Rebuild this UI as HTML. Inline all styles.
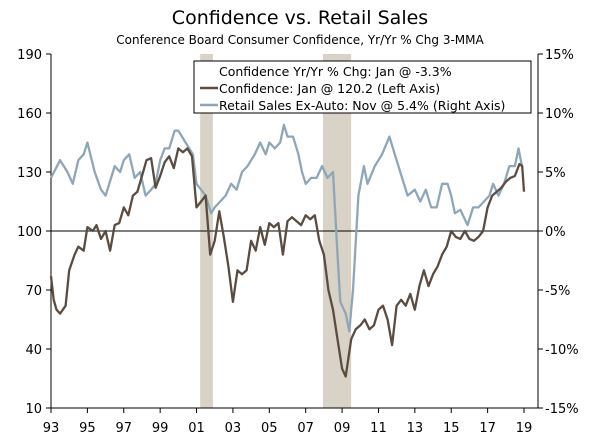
<!DOCTYPE html>
<html><head><meta charset="utf-8"><style>
body{margin:0;background:#fff}
svg{display:block;font-family:"DejaVu Sans","Liberation Sans",sans-serif}
</style></head><body>
<svg id="c" width="600" height="440">
<text x="300" y="24" text-anchor="middle" font-size="19" fill="#000">Confidence vs. Retail Sales</text>
<text x="300" y="44" text-anchor="middle" font-size="12" fill="#000">Conference Board Consumer Confidence, Yr/Yr % Chg 3-MMA</text>
<g id="g"></g>
</svg>
<script>
const recessions=[[2001.2,2001.9],[2007.95,2009.5]];
const leftTicks=[10,40,70,100,130,160,190];
const rightTicks=[-15,-10,-5,0,5,10,15];
const xTicks=[1993,1995,1997,1999,2001,2003,2005,2007,2009,2011,2013,2015,2017,2019];
const confYears=[1993,1993.15,1993.3,1993.5,1993.8,1994,1994.3,1994.5,1994.8,1995,1995.3,1995.5,1995.75,1996,1996.25,1996.5,1996.75,1997,1997.25,1997.5,1997.75,1998,1998.25,1998.5,1998.75,1999,1999.25,1999.5,1999.75,2000,2000.25,2000.5,2000.75,2001,2001.25,2001.5,2001.75,2002,2002.25,2002.5,2002.75,2003,2003.25,2003.5,2003.75,2004,2004.25,2004.5,2004.75,2005,2005.25,2005.5,2005.75,2006,2006.25,2006.5,2006.75,2007,2007.25,2007.5,2007.75,2008,2008.25,2008.5,2008.75,2009,2009.2,2009.5,2009.75,2010,2010.25,2010.5,2010.75,2011,2011.25,2011.5,2011.75,2012,2012.25,2012.5,2012.75,2013,2013.25,2013.5,2013.75,2014,2014.25,2014.5,2014.75,2015,2015.25,2015.5,2015.75,2016,2016.25,2016.5,2016.75,2017,2017.25,2017.5,2017.75,2018,2018.25,2018.5,2018.75,2018.9,2019];
const confValues=[77,65,60,58,62,80,88,92,90,102,100,103,96,100,90,103,104,112,108,118,120,128,136,137,122,128,135,138,132,142,140,142,138,112,115,118,88,95,110,97,82,64,80,78,80,95,90,102,93,104,102,104,88,105,107,105,103,108,106,108,95,88,70,60,45,30,26,45,50,52,55,50,52,60,62,55,42,62,65,62,68,60,72,80,72,78,82,88,92,100,97,96,100,96,95,97,100,112,118,120,122,125,127,128,134,133,120];
const retYears=[1993,1993.5,1993.9,1994.2,1994.5,1994.8,1995,1995.4,1995.75,1996,1996.5,1996.8,1997,1997.3,1997.6,1997.9,1998.2,1998.5,1998.75,1999,1999.25,1999.5,1999.8,2000,2000.4,2000.8,2001,2001.5,2001.8,2002,2002.3,2002.6,2002.9,2003.2,2003.5,2003.8,2004.2,2004.5,2004.8,2005,2005.3,2005.6,2005.8,2006,2006.3,2006.6,2006.8,2007,2007.3,2007.6,2007.9,2008.2,2008.5,2008.75,2008.9,2009.2,2009.4,2009.6,2009.9,2010.2,2010.4,2010.8,2011.2,2011.6,2012,2012.3,2012.6,2013,2013.3,2013.6,2013.9,2014.2,2014.5,2014.8,2015,2015.2,2015.5,2015.9,2016.2,2016.5,2016.8,2017.1,2017.3,2017.6,2017.9,2018.2,2018.5,2018.7,2018.9];
const retValues=[4.5,6,5,4,6,6.5,7.5,5,3.5,3,5.5,5,6,6.5,4.5,5,3,3.5,4,6,7,7,8.5,8.5,7.5,6.5,4,3,1.5,2,2.5,3,4,3.5,5,5.5,6.5,7.5,6.5,7.5,7,7.5,9,8,8,6.5,5,4,4.5,4.5,5.5,4.5,5,-2,-6,-7,-8.5,-5,3,5.5,4,5.5,6.5,8,6,4.5,3,3.5,2.5,3.5,2,2,4,4,3,1.5,1.8,0.5,2,2,2.5,3,4,3,4,5.5,5.5,7,5.4];
const L=51,R=538,T=54,B=408,X0=1993,X1=2019.77;
const xs=v=>L+(v-X0)/(X1-X0)*(R-L);
const yl=v=>B-(v-10)/180*(B-T);
const yr=v=>B-(v+15)/30*(B-T);
const g=document.getElementById('g');
const NS='http://www.w3.org/2000/svg';
function mk(t,a,p){const e=document.createElementNS(NS,t);for(const k in a)e.setAttribute(k,a[k]);(p||g).appendChild(e);return e;}
recessions.forEach(r=>{
 const e=mk('rect',{x:xs(r[0]),y:T,width:xs(r[1])-xs(r[0]),height:B-T,fill:'#d8d3c6'});
 
 
});
const zl=mk('line',{x1:L,x2:R,y1:yl(100),y2:yl(100),stroke:'#000','stroke-width':1});


const ax=mk('path',{d:`M${L},${T}V${B}H${R}V${T}`,fill:'none',stroke:'#000','stroke-width':1});


leftTicks.forEach(v=>{
 mk('line',{x1:L-5,x2:L,y1:yl(v),y2:yl(v),stroke:'#000'});
 const t=mk('text',{x:L-9,y:yl(v)+5,'text-anchor':'end','font-size':13});t.textContent=v;
 
 
});
rightTicks.forEach(v=>{
 mk('line',{x1:R,x2:R+5,y1:yr(v),y2:yr(v),stroke:'#000'});
 const t=mk('text',{x:R+7,y:yr(v)+5,'font-size':13});t.textContent=v+'%';
 
 
});
xTicks.forEach(v=>{
 mk('line',{x1:xs(v),x2:xs(v),y1:B,y2:B+5,stroke:'#000'});
 const t=mk('text',{x:xs(v),y:B+24,'text-anchor':'middle','font-size':13});t.textContent=String(v).slice(2);
 
 
});
const rp=mk('path',{d:'M'+retYears.map((y,i)=>xs(y).toFixed(1)+','+yr(retValues[i]).toFixed(1)).join('L'),fill:'none',stroke:'#8ea7b8','stroke-width':2.3,'stroke-linejoin':'round'});


const cp=mk('path',{d:'M'+confYears.map((y,i)=>xs(y).toFixed(1)+','+yl(confValues[i]).toFixed(1)).join('L'),fill:'none',stroke:'#5a4c40','stroke-width':2.3,'stroke-linejoin':'round'});


const lg=mk('g',{});


mk('rect',{x:194,y:61,width:337,height:52,fill:'#fff',stroke:'#000'},lg);
const items=[['Confidence Yr/Yr % Chg: Jan @ -3.3%',null],['Confidence: Jan @ 120.2 (Left Axis)','#5a4c40'],['Retail Sales Ex-Auto: Nov @ 5.4% (Right Axis)','#8ea7b8']];
items.forEach((it,i)=>{
 const y=75+i*17;
 if(it[1])mk('line',{x1:200,x2:218,y1:y-4,y2:y-4,stroke:it[1],'stroke-width':2.5},lg);
 const t=mk('text',{x:219,y:y+1,'font-size':12.5},lg);t.textContent=it[0];
 
 
});
</script>
</body></html>
